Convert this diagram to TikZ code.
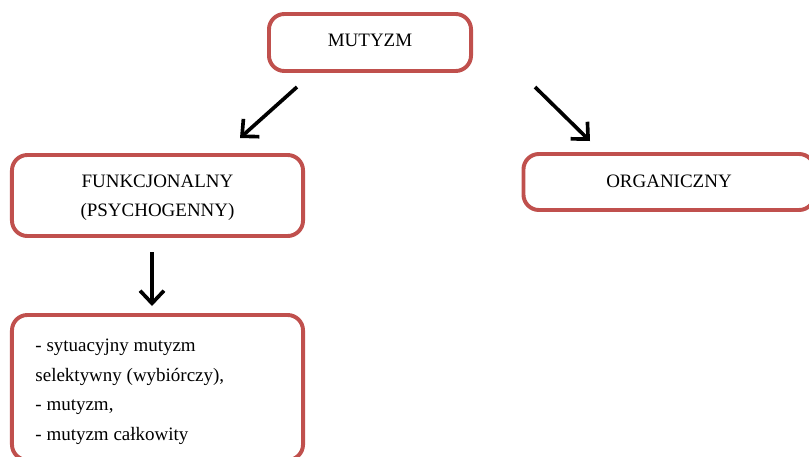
\documentclass[tikz,border=0pt]{standalone}
\usepackage{fontspec}
\setmainfont{Liberation Serif}
\usetikzlibrary{arrows.meta}

\definecolor{boxred}{HTML}{C0504D}

\tikzset{
  box/.style={draw=boxred, line width=2.8pt, rounded corners=11pt,
    align=center, font=\fontsize{13.5}{20.5}\selectfont},
  arr/.style={line width=2.6pt,
    -{Straight Barb[length=9pt,width=17pt,line width=2.6pt]}}
}

\begin{document}
\begin{tikzpicture}[x=0.025cm,y=-0.025cm]
\useasboundingbox (0,0) rectangle (809,456);
\clip (0,0) rectangle (809,456);
% boxes
\node[box, minimum width=5.05cm, minimum height=1.425cm] (mutyzm) at (370,42.5)
  {\raisebox{2.5pt}{MUTYZM}};
\node[box, minimum width=7.275cm, minimum height=2.025cm] (funk) at (157.5,195.5)
  {\parbox{6cm}{\centering\vspace*{3pt}FUNKCJONALNY\\(PSYCHOGENNY)}};
\node[box, minimum width=7.275cm, minimum height=1.4cm] (organ) at (669,182)
  {\raisebox{1pt}{ORGANICZNY}};
\node[box, minimum width=7.275cm, minimum height=3.625cm, align=left] (rodzaje) at (157.5,387.5)
  {\parbox{6.1cm}{\fontsize{13.5}{21}\selectfont\vspace*{6pt}%
   - sytuacyjny mutyzm\\selektywny (wybiórczy),\\- mutyzm,\\- mutyzm całkowity}};
% arrows
\coordinate (l1) at (297,87);
\coordinate (l2) at (240,138);
\coordinate (r1) at (535,87);
\coordinate (r2) at (590,141);
\coordinate (d1) at (152,252);
\coordinate (d2) at (152,306);
\draw[arr] (l1) -- (l2);
\draw[arr] (r1) -- (r2);
\draw[arr] (d1) -- (d2);
\end{tikzpicture}
\end{document}
